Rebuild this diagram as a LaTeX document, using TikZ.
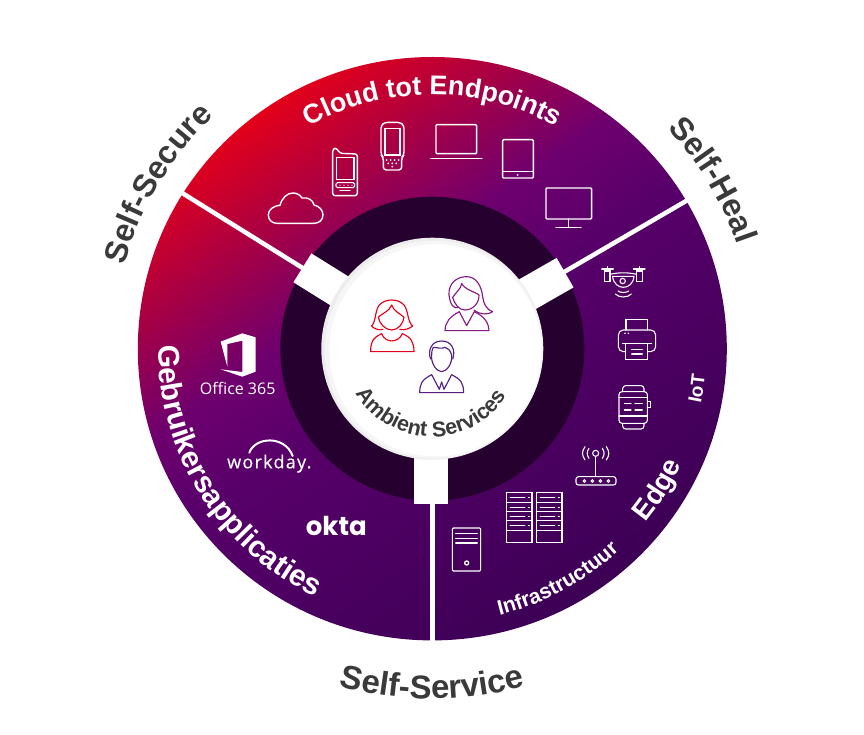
\documentclass[tikz,border=0pt]{standalone}
\usepackage{fontspec}
\setmainfont{Liberation Sans}
\newfontfamily\officefont{Open Sans}
\newfontfamily\workfont[LetterSpace=7,FakeBold=0.3]{Open Sans}
\newfontfamily\oktafont{Poppins}
\usetikzlibrary{decorations.text}
\definecolor{gA}{HTML}{E3001A}
\definecolor{gB}{HTML}{6E006E}
\definecolor{gC}{HTML}{58006A}
\definecolor{gD}{HTML}{3C0055}
\definecolor{ringdark}{HTML}{26002E}
\definecolor{labeldark}{HTML}{3A3A3A}
\definecolor{pRed}{HTML}{E3001A}
\definecolor{pPurple}{HTML}{861A86}
\definecolor{pDeep}{HTML}{55207F}
\pgfdeclarehorizontalshading{discgrad}{100bp}{color(0bp)=(gA); color(25bp)=(gA); color(42.4bp)=(gB); color(50bp)=(gC); color(75bp)=(gD); color(100bp)=(gD)}
\newcommand\ftxt[2]{\fontsize{#1}{#1}\selectfont\bfseries\color{#2}}
\tikzset{
  icon/.style={draw=white,line width=1.4pt,line join=round,line cap=round},
  iconthin/.style={draw=white,line width=1.1pt,line cap=round},
  person/.style={line width=1.15pt,line join=round,fill=none},
  zoomA/.style={shift={(260,110)},x=.3333pt,y=-.3333pt},
  zoomB/.style={shift={(340,260)},x=.3333pt,y=-.3333pt},
  zoomC/.style={shift={(190,320)},x=.3333pt,y=-.3333pt},
  zoomD/.style={shift={(440,430)},x=.3333pt,y=-.3333pt},
  zoomE/.style={shift={(590,255)},x=.3333pt,y=-.3333pt},
  polar/.style={shift={(432.3,348.7)},x=1pt,y=1pt},
  divider/.style={draw=white,line width=4.5pt},
  bar/.style={draw=white,line width=34pt},
}
\begin{document}
\begin{tikzpicture}[x=1pt,y=-1pt]
\useasboundingbox (0,0) rectangle (864,735);
\fill[white] (0,0) rectangle (864,735);
% disc and rings
\begin{scope}[polar]
\shade[shading=discgrad,shading angle=-55] (0,0) ellipse[x radius=294.5,y radius=291.7];
\draw[divider] (-90:150) -- (-90:300);
\draw[divider] (30.2:150) -- (30.2:300);
\draw[divider] (148.1:150) -- (148.1:300);
\fill[ringdark] (0,0) circle[radius=152];
\draw[bar] (-.9,-105) -- (-.9,-155);
\draw[bar] (29.8:105) -- (29.8:153);
\draw[bar] (148.1:105) -- (148.1:153);
\fill[white!93!black] (0,0) circle[radius=111];
\fill[white!96.5!black] (1.5,-.8) circle[radius=109];
\fill[white] (3,-1.5) circle[radius=106];
% curved labels
\path[decorate,decoration={text along path,text align=center,text={|\ftxt{27}{white}|Cloud tot Endpoints}}] (150:254) arc[start angle=150,end angle=30,radius=254];
\path[decorate,decoration={text along path,text align=center,text={|\ftxt{32}{labeldark}|Self-Secure}}] (191:319) arc[start angle=191,end angle=107,radius=319];
\path[decorate,decoration={text along path,text align=center,text={|\ftxt{32}{labeldark}|Self-Heal}}] (73:322) arc[start angle=73,end angle=-11,radius=322];
\path[decorate,decoration={text along path,text align=center,text={|\ftxt{33}{labeldark}|Self-Service}}] (240:350) arc[start angle=240,end angle=300,radius=350];
\path[decorate,decoration={text along path,text align=center,text={|\ftxt{30}{white}|Gebruikersapplicaties}}] (170:274) arc[start angle=170,end angle=254,radius=274];
\path[decorate,decoration={text along path,text align=center,text={|\ftxt{21}{white}|Infrastructuur}}] (-99.5:275) arc[start angle=-99.5,end angle=-23.5,radius=275];
\path[decorate,decoration={text along path,text align=center,text={|\ftxt{28}{white}|Edge}}] (-62:275) arc[start angle=-62,end angle=-2,radius=275];
\path[decorate,decoration={text along path,text align=center,text={|\ftxt{19}{white}|IoT}}] (-28:274) arc[start angle=-28,end angle=11,radius=274];
\path[decorate,decoration={text along path,text align=center,text={|\ftxt{21.5}{labeldark}|Ambient Services}}] (-170:88) arc[start angle=-170,end angle=-12,radius=88];
\end{scope}
% device icons, top sector
\begin{scope}[zoomA]
\draw[icon] (51,340) .. controls (36,340) and (25,330) .. (25,315) .. controls (25,300) and (38,288) .. (60,286) .. controls (66,264) and (81,249) .. (99,249) .. controls (111,249) and (120,255) .. (126,264) .. controls (144,261) and (159,270) .. (162,285) .. controls (177,288) and (189,300) .. (189,315) .. controls (189,330) and (177,340) .. (162,340) -- cycle;
% pda
\draw[icon,rounded corners=2.5pt] (218,118) -- (218,257) -- (292,257) -- (292,132) -- (240,130) -- (228,113) -- cycle;
\draw[iconthin] (230,143) rectangle (282,208);
\draw[iconthin,rounded corners=1.5pt] (228,218) rectangle (284,233);
\draw[iconthin] (240,241) -- (270,241);
\fill[white] (240,226) circle[radius=2] (252,226) circle[radius=2] (264,226) circle[radius=2] (276,226) circle[radius=2];
% handheld
\draw[icon,rounded corners=3pt] (363,46) -- (375,37) -- (420,37) -- (432,46) -- (432,135) -- (425,142) -- (425,180) -- (370,180) -- (370,142) -- (363,135) -- cycle;
\draw[iconthin] (375,55) rectangle (420,135);
\fill[white] (380,150) circle[radius=3] (392,150) circle[radius=3] (404,150) circle[radius=3] (416,150) circle[radius=3] (385,160) circle[radius=3] (397,160) circle[radius=3] (409,160) circle[radius=3] (397,170) circle[radius=3];
% laptop
\draw[icon,rounded corners=1pt] (528,44) rectangle (650,131);
\draw[icon] (512,145) -- (666,145);
% tablet
\draw[icon,rounded corners=1pt] (728,89) rectangle (820,204);
\draw[icon] (728,185) -- (820,185);
\fill[white] (773,195) circle[radius=3];
% monitor
\draw[icon,rounded corners=1pt] (858,234) rectangle (995,327);
\draw[icon] (925,327) -- (925,352) (888,352) -- (963,352);
\end{scope}
% people
\begin{scope}[zoomB]
\draw[person,pRed] (130,208) .. controls (115,212) and (100,205) .. (95,198) .. controls (108,185) and (105,150) .. (118,135) .. controls (135,115) and (175,115) .. (192,135) .. controls (205,150) and (202,185) .. (218,198) .. controls (210,205) and (195,212) .. (178,208);
\draw[person,pRed] (155,135) .. controls (148,155) and (125,160) .. (115,172) .. controls (118,190) and (135,210) .. (155,210) .. controls (175,210) and (190,190) .. (192,172) .. controls (180,160) and (162,155) .. (155,135) -- cycle;
\draw[person,pRed] (92,275) .. controls (92,250) and (95,235) .. (125,221) .. controls (135,250) and (175,250) .. (187,221) .. controls (215,232) and (222,250) .. (222,275) -- cycle;
% purple woman
\draw[person,pPurple] (356,142) .. controls (340,150) and (330,130) .. (327,105) .. controls (325,70) and (350,50) .. (380,50) .. controls (410,50) and (425,80) .. (428,110) .. controls (430,130) and (440,150) .. (458,155) .. controls (445,165) and (420,165) .. (402,150);
\draw[person,pPurple] (365,70) .. controls (365,85) and (345,100) .. (338,112) .. controls (345,135) and (358,150) .. (375,150) .. controls (398,150) and (418,130) .. (417,105) .. controls (405,95) and (375,90) .. (365,70) -- cycle;
\draw[person,pPurple] (315,212) .. controls (316,185) and (330,170) .. (358,155) -- (380,197) -- (403,155) .. controls (430,168) and (446,185) .. (447,212) -- cycle;
% man
\draw[person,pDeep] (272,298) .. controls (262,270) and (275,243) .. (305,243) .. controls (335,243) and (348,270) .. (338,298);
\draw[person,pDeep] (275,285) .. controls (272,310) and (290,335) .. (305,335) .. controls (320,335) and (338,310) .. (335,285) .. controls (330,270) and (325,265) .. (315,262) .. controls (305,268) and (290,262) .. (280,262) .. controls (275,270) and (275,278) .. (275,285) -- cycle;
\draw[person,pDeep] (239,398) .. controls (240,370) and (245,360) .. (275,344) -- (298,388) -- (305,366) -- (312,388) -- (335,344) .. controls (365,360) and (370,370) .. (371,398) -- cycle;
\end{scope}
% apps
\begin{scope}[zoomC]
\fill[white] (92,65) -- (157,40) -- (197,52) -- (197,155) -- (157,170) -- (92,148) -- (157,156) -- (157,62) -- (112,72) -- (112,140) -- cycle;
\node[white,anchor=base,font=\officefont\fontsize{16}{16}\selectfont,inner sep=0] (office) at (143,225) {Office 365};
\draw[draw=white,line width=2pt,line cap=round] (178,398) .. controls (195,350) and (285,345) .. (308,408);
\node[white,anchor=base,font=\workfont\fontsize{18}{18}\selectfont,inner sep=0] (workday) at (238,445) {workday.};
\node[white,anchor=base,font=\oktafont\bfseries\fontsize{26}{26}\selectfont,inner sep=0] (okta) at (439,648) {okta};
\end{scope}
% infrastructure
\begin{scope}[zoomD]
\draw[iconthin] (467,80) -- (467,140);
\draw[iconthin] (467,70) circle[radius=9];
\draw[iconthin] (447,55) .. controls (440,65) and (440,75) .. (447,85) (487,55) .. controls (494,65) and (494,75) .. (487,85);
\draw[iconthin] (435,50) .. controls (425,65) and (425,75) .. (435,90) (499,50) .. controls (509,65) and (509,75) .. (499,90);
\draw[iconthin,rounded corners=2.5pt] (408,140) rectangle (528,165);
\draw[iconthin,line width=1pt] (433,153) circle[radius=4] (457,153) circle[radius=4] (481,153) circle[radius=4] (505,153) circle[radius=4];
\foreach \xo in {0,90}{
  \draw[iconthin] (199+\xo,188) rectangle (276+\xo,338);
  \foreach \yo in {216,244,272,300}{
    \draw[iconthin,line width=.9pt] (199+\xo,\yo) -- (276+\xo,\yo);
    \draw[iconthin,line width=.9pt] (210+\xo,\yo-13) -- (255+\xo,\yo-13) (265+\xo,\yo-13) -- (268+\xo,\yo-13);
  }
}
\draw[icon,line width=1.1pt,rounded corners=1pt] (37,294) rectangle (122,423);
\draw[iconthin] (47,311) -- (112,311) (47,325) -- (112,325) (47,339) -- (112,339);
\draw[iconthin,line width=1.3pt] (80,399) circle[radius=6];
\end{scope}
% IoT
\begin{scope}[zoomE]
\draw[iconthin] (35,42) -- (70,42) (130,42) -- (165,42) (52,35) -- (52,48) (148,35) -- (148,48);
\draw[iconthin] (44,48) rectangle (60,80) (140,48) rectangle (157,80);
\draw[iconthin] (60,58) .. controls (85,52) and (115,52) .. (140,58);
\draw[iconthin] (68,64) .. controls (72,108) and (128,108) .. (132,64) -- (68,64);
\draw[iconthin] (98,78) circle[radius=8];
\draw[iconthin] (84,108) .. controls (92,114) and (108,114) .. (116,108);
\draw[iconthin] (76,117) .. controls (88,129) and (112,129) .. (124,117);
\draw[iconthin] (108,225) -- (108,193) -- (172,193) -- (172,225);
\draw[iconthin,rounded corners=5pt] (107,290) -- (85,290) -- (85,225) -- (197,225) -- (197,290) -- (173,290);
\draw[iconthin] (97,265) -- (185,265);
\draw[iconthin] (107,265) rectangle (173,313);
\draw[iconthin] (125,283) -- (157,283) (125,297) -- (157,297);
\fill[white] (105,235) circle[radius=2.5] (115,235) circle[radius=2.5];
\draw[iconthin,rounded corners=3pt] (87,410) rectangle (172,505);
\draw[iconthin,rounded corners=3pt] (98,410) -- (98,392) -- (162,392) -- (162,410);
\draw[iconthin,rounded corners=3pt] (98,505) -- (98,522) -- (162,522) -- (162,505);
\draw[iconthin] (87,428) -- (172,428) (87,483) -- (172,483);
\draw[iconthin] (172,440) -- (182,440) -- (182,458) -- (172,458);
\draw[iconthin] (103,445) -- (123,445) (135,445) -- (157,445) (103,465) -- (123,465) (135,465) -- (157,465);
\end{scope}
\end{tikzpicture}
\end{document}
